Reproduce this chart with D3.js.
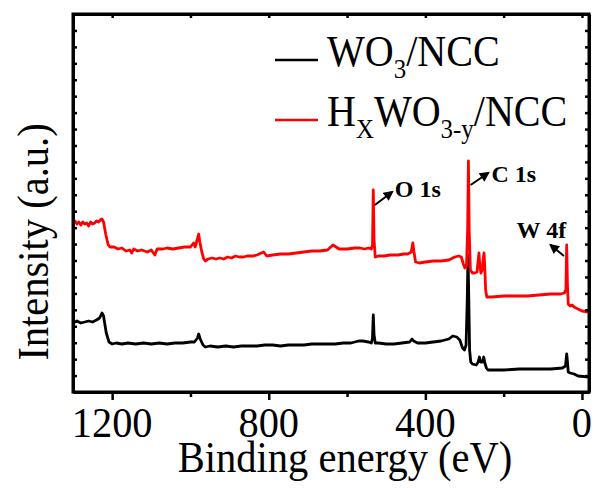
<!DOCTYPE html>
<html>
<head>
<meta charset="utf-8">
<script src="https://cdn.jsdelivr.net/npm/d3@7"></script>
<style>
  html, body { margin: 0; padding: 0; background: #fff; }
  svg { display: block; }
</style>
</head>
<body>
<div id="chart"></div>
<script>
// binding energy (eV) / intensity (a.u.)
var energyWO3 = [1300, 1290, 1280, 1270, 1260, 1250, 1240, 1232, 1226, 1222, 1215, 1208, 1200, 1190, 1175, 1160, 1140, 1120, 1100, 1080, 1060, 1040, 1020, 1000, 990, 982, 979, 975, 968, 962, 950, 930, 910, 890, 870, 850, 830, 810, 790, 770, 750, 730, 710, 690, 670, 650, 630, 610, 590, 570, 560, 545, 538, 535, 533, 531, 528, 520, 500, 480, 460, 440, 434, 430, 420, 400, 380, 360, 340, 330, 320, 312, 305, 300, 296, 293, 291, 289, 287, 284, 280, 270, 265, 262, 259, 254, 251, 248, 244, 240, 200, 160, 120, 80, 50, 42, 39, 37, 35, 30, 20, 10, -18];
var intensityWO3 = [69, 71, 69, 70, 71, 70, 72, 74, 79, 76, 59, 50, 48, 49, 48, 49, 48, 49, 48, 49, 48, 49, 49, 50, 50, 54, 58, 53, 47, 45, 46, 45, 46, 45, 46, 46, 46, 47, 47, 46, 47, 47, 47, 48, 48, 48, 48, 49, 49, 51, 51, 50, 49, 54, 77, 57, 49, 49, 48, 48, 49, 50, 53, 51, 49, 49, 50, 51, 53, 56, 55, 52, 44, 42, 47, 92, 137, 92, 42, 30, 28, 27, 30, 35, 30, 30, 35, 29, 24, 22, 22, 23, 23, 23, 24, 26, 38, 30, 20, 19, 18, 16, 15];

var energyHWO = [1300, 1295, 1290, 1285, 1280, 1275, 1270, 1265, 1260, 1255, 1250, 1245, 1240, 1235, 1230, 1226, 1222, 1216, 1210, 1205, 1195, 1185, 1175, 1165, 1155, 1150, 1145, 1135, 1125, 1110, 1100, 1091, 1085, 1070, 1060, 1045, 1030, 1015, 1000, 992, 988, 983, 979, 976, 971, 966, 962, 955, 945, 935, 925, 915, 905, 895, 885, 875, 865, 855, 840, 830, 813, 805, 790, 770, 750, 730, 710, 690, 670, 650, 636, 620, 600, 580, 567, 555, 545, 538, 535, 533, 531, 528, 520, 505, 490, 470, 455, 445, 436, 432, 429, 425, 415, 400, 380, 360, 340, 325, 315, 308, 303, 299, 295, 292, 290, 288, 285, 280, 275, 268, 265, 263, 261, 258, 255, 252, 250, 248, 246, 243, 230, 200, 170, 140, 110, 80, 55, 45, 41, 39, 37, 35, 30, 25, 20, 10, 0, -18];
var intensityHWO = [169, 171, 168, 170, 167, 170, 168, 169, 166, 170, 168, 169, 171, 170, 172, 173, 170, 157, 147, 145, 145, 143, 144, 141, 142, 139, 143, 141, 142, 140, 142, 137, 143, 143, 144, 143, 144, 145, 145, 149, 145, 152, 158, 150, 140, 133, 131, 133, 134, 133, 134, 133, 135, 134, 136, 135, 135, 136, 136, 137, 140, 136, 137, 138, 138, 139, 140, 141, 141, 142, 147, 143, 143, 144, 144, 143, 144, 143, 147, 202, 152, 135, 136, 136, 137, 137, 138, 138, 140, 149, 140, 130, 129, 130, 131, 131, 132, 135, 136, 135, 128, 124, 126, 162, 231, 162, 122, 119, 119, 120, 132, 139, 127, 119, 122, 134, 139, 122, 102, 95, 95, 96, 96, 96, 97, 98, 98, 99, 102, 147, 107, 88, 86, 87, 85, 83, 81, 80];

var seriesColors = ["#000000", "#ff0000"];

var xTickMajor = [1200, 800, 400, 0];
var xTickMinor = [1000, 600, 200];
var xTickLabels = ["1200", "800", "400", "0"];

// peak labels: text anchor and arrow (tail -> head) in data units
var peakLabels = ["O 1s", "C 1s", "W 4f"];
var peakTextPos = [[478, 195], [231, 210], [167, 154]];
var peakArrows = [[[529, 187], [485, 200]], [[284.5, 207], [239.5, 219]], [[46, 136], [80, 147]]];

var serif = "'Liberation Serif', 'Times New Roman', Times, serif";
var width = 594, height = 488;
var margin = { left: 73, right: 5, top: 14, bottom: 96 };
var squeeze = 0.9;

var svg = d3.select("#chart").append("svg")
  .attr("width", width)
  .attr("height", height);

var x = d3.scaleLinear()
  .domain([1300, -18])
  .range([margin.left, width - margin.right]);

var y = d3.scaleLinear()
  .domain([0, 378])
  .range([height - margin.bottom, margin.top]);

var yTicks = d3.range(1, 23).map(i => i * 378 / 23);

svg.append("defs").append("marker")
  .attr("id", "arrowHead")
  .attr("viewBox", "0 0 10 10")
  .attr("refX", 8)
  .attr("refY", 5)
  .attr("markerWidth", 5.5)
  .attr("markerHeight", 5)
  .attr("orient", "auto")
  .append("path")
  .attr("d", "M0,0 L10,5 L0,10 z")
  .attr("fill", "#000");

// spectra
var line = d3.line()
  .x(d => x(d[0]))
  .y(d => y(d[1]));

var seriesData = [
  d3.zip(energyWO3, intensityWO3),
  d3.zip(energyHWO, intensityHWO)
];

svg.append("clipPath")
  .attr("id", "plotClip")
  .append("rect")
  .attr("x", margin.left)
  .attr("y", margin.top)
  .attr("width", width - margin.left - margin.right)
  .attr("height", height - margin.top - margin.bottom);

svg.selectAll(".spectrum")
  .data(seriesData)
  .enter()
  .append("path")
  .attr("class", "spectrum")
  .attr("clip-path", "url(#plotClip)")
  .attr("d", line)
  .attr("fill", "none")
  .attr("stroke", (d, i) => seriesColors[i])
  .attr("stroke-width", 2.8)
  .attr("stroke-linejoin", "round");

// axes / frame
function styleAxis(g) {
  g.select(".domain").attr("stroke", "#000").attr("stroke-width", 3);
  g.selectAll(".tick line").attr("stroke", "#000").attr("stroke-width", 2.5);
}

var yBottom = height - margin.bottom;
svg.append("g")
  .attr("transform", `translate(0,${yBottom})`)
  .call(d3.axisBottom(x).tickValues(xTickMinor).tickSize(5).tickSizeOuter(0).tickFormat(""))
  .call(styleAxis);

svg.append("g")
  .attr("transform", `translate(0,${yBottom})`)
  .call(d3.axisBottom(x).tickValues(xTickMajor).tickSize(8).tickSizeOuter(0).tickFormat(""))
  .call(styleAxis);

svg.append("g")
  .attr("transform", `translate(0,${margin.top})`)
  .call(d3.axisTop(x).tickValues(xTickMajor.concat(xTickMinor)).tickSize(-4).tickSizeOuter(0).tickFormat(""))
  .call(styleAxis);

svg.append("g")
  .attr("transform", `translate(${margin.left},0)`)
  .call(d3.axisLeft(y).tickValues(yTicks).tickSize(-4).tickSizeOuter(0).tickFormat(""))
  .call(styleAxis);

svg.append("g")
  .attr("transform", `translate(${width - margin.right},0)`)
  .call(d3.axisRight(y).tickValues(yTicks).tickSize(-4).tickSizeOuter(0).tickFormat(""))
  .call(styleAxis);

svg.append("rect")
  .attr("x", margin.left)
  .attr("y", margin.top)
  .attr("width", width - margin.left - margin.right)
  .attr("height", height - margin.top - margin.bottom)
  .attr("fill", "none")
  .attr("stroke", "#000")
  .attr("stroke-width", 3);

// tick labels
svg.selectAll(".xTickLabel")
  .data(xTickMajor)
  .enter()
  .append("text")
  .attr("class", "xTickLabel")
  .attr("transform", d => `translate(${x(d)},${yBottom + 45}) scale(0.94,1)`)
  .attr("text-anchor", "middle")
  .style("font-family", serif)
  .attr("font-size", 43)
  .text((d, i) => xTickLabels[i]);

// axis titles
svg.append("text")
  .attr("transform", `translate(345,472) scale(${squeeze},1)`)
  .attr("text-anchor", "middle")
  .style("font-family", serif)
  .attr("font-size", 45)
  .text("Binding energy (eV)");

svg.append("text")
  .attr("transform", `translate(48,242) rotate(-90) scale(${squeeze},1)`)
  .attr("text-anchor", "middle")
  .style("font-family", serif)
  .attr("font-size", 45)
  .text("Intensity (a.u.)");

// legend
var legendParts = [
  [["WO", 0], ["3", 1], ["/NCC", 0]],
  [["H", 0], ["X", 1], ["WO", 0], ["3-y", 1], ["/NCC", 0]]
];
var legendRowY = [60, 120];

legendParts.forEach((parts, i) => {
  svg.append("line")
    .attr("x1", 275)
    .attr("x2", 318)
    .attr("y1", legendRowY[i])
    .attr("y2", legendRowY[i])
    .attr("stroke", seriesColors[i])
    .attr("stroke-width", 2.5);

  var label = svg.append("text")
    .attr("transform", `translate(327,${legendRowY[i] + 6}) scale(0.89,1)`)
    .style("font-family", serif)
    .attr("font-size", 45);
  var shifted = 0;
  parts.forEach(p => {
    var dy = (p[1] ? 12 : 0) - shifted;
    shifted = p[1] ? 12 : 0;
    label.append("tspan")
      .attr("dy", dy)
      .attr("font-size", p[1] ? 28 : 45)
      .text(p[0]);
  });
});

// peak annotations
peakLabels.forEach((name, i) => {
  svg.append("line")
    .attr("x1", x(peakArrows[i][0][0]))
    .attr("y1", y(peakArrows[i][0][1]))
    .attr("x2", x(peakArrows[i][1][0]))
    .attr("y2", y(peakArrows[i][1][1]))
    .attr("stroke", "#000")
    .attr("stroke-width", 2)
    .attr("marker-end", "url(#arrowHead)");

  svg.append("text")
    .attr("x", x(peakTextPos[i][0]))
    .attr("y", y(peakTextPos[i][1]))
    .style("font-family", serif)
    .attr("font-size", 24)
    .attr("font-weight", "bold")
    .text(name);
});
</script>
</body>
</html>
